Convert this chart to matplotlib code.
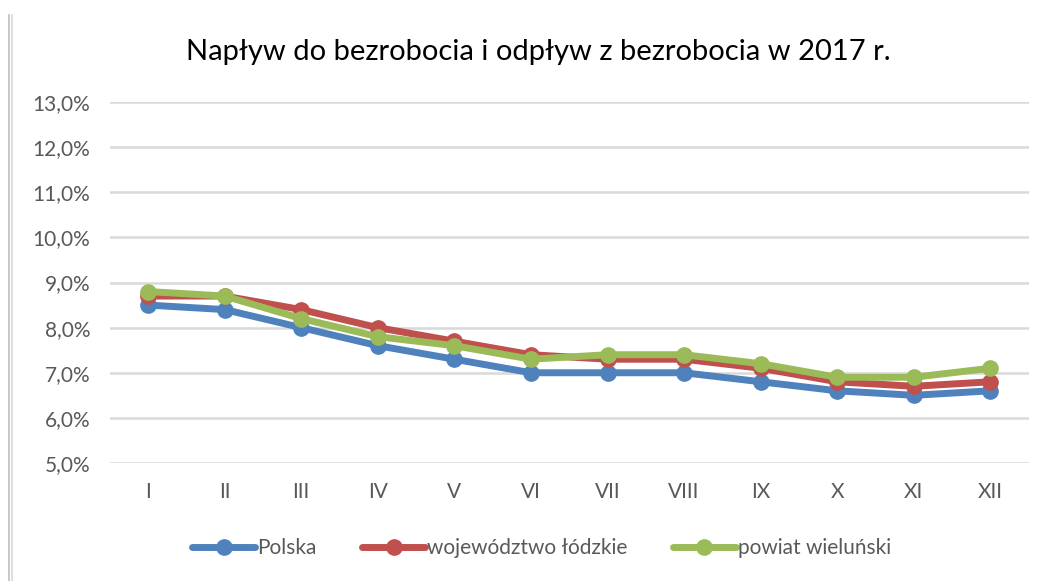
import matplotlib
matplotlib.use("Agg")
import matplotlib.pyplot as plt
from matplotlib.lines import Line2D
from matplotlib.ticker import FuncFormatter

months = ["I", "II", "III", "IV", "V", "VI", "VII", "VIII", "IX", "X", "XI", "XII"]
polska = [8.5, 8.4, 8.0, 7.6, 7.3, 7.0, 7.0, 7.0, 6.8, 6.6, 6.5, 6.6]
lodzkie = [8.7, 8.7, 8.4, 8.0, 7.7, 7.4, 7.3, 7.3, 7.1, 6.8, 6.7, 6.8]
wielunski = [8.8, 8.7, 8.2, 7.8, 7.6, 7.3, 7.4, 7.4, 7.2, 6.9, 6.9, 7.1]
series_names = ["Polska", "województwo łódzkie", "powiat wieluński"]
colors = ["#4F81BD", "#C0504D", "#9BBB59"]
title = "Napływ do bezrobocia i odpływ z bezrobocia w 2017 r."

plt.rcParams['font.family'] = ['Lato', 'DejaVu Sans']

fig = plt.figure(figsize=(10.45, 5.81), dpi=100)
ax = fig.add_axes([0.105, 0.2031, 0.8794, 0.6213])

x = list(range(len(months)))
for vals, name, c in zip([polska, lodzkie, wielunski], series_names, colors):
    ax.plot(x, vals, color=c, lw=5, marker='o', markersize=11, label=name,
            solid_capstyle='round', solid_joinstyle='round')

ax.set_xlim(-0.5, len(months) - 0.5)
ax.set_ylim(5, 13)
ax.set_yticks([5, 6, 7, 8, 9, 10, 11, 12, 13])
ax.yaxis.set_major_formatter(FuncFormatter(lambda v, p: f"{v:.1f}%".replace(".", ",")))
ax.set_xticks(x)
ax.set_xticklabels(months)
ax.grid(axis='y', color='#D9D9D9', lw=1.8)
ax.set_axisbelow(True)
for s in ax.spines.values():
    s.set_visible(False)
ax.tick_params(axis='both', length=0, labelsize=15, colors='#595959')
ax.tick_params(axis='x', pad=14)
ax.tick_params(axis='y', pad=14)

fig.text(0.515, 0.91, title, ha='center', va='center', fontsize=21, color='black')

ax.legend(loc='center', bbox_to_anchor=(0.47, -0.235), ncol=3, frameon=False,
          fontsize=15, labelcolor='#595959', handlelength=3.0, handletextpad=0.1,
          columnspacing=2.2)

fig.add_artist(Line2D([0.0085, 0.0085], [0.0, 0.975], color='#BFBFBF', lw=1.2))
fig.add_artist(Line2D([0.0115, 0.0115], [0.0, 0.975], color='#D9D9D9', lw=1.2))

fig.savefig("out.png", dpi=100)
